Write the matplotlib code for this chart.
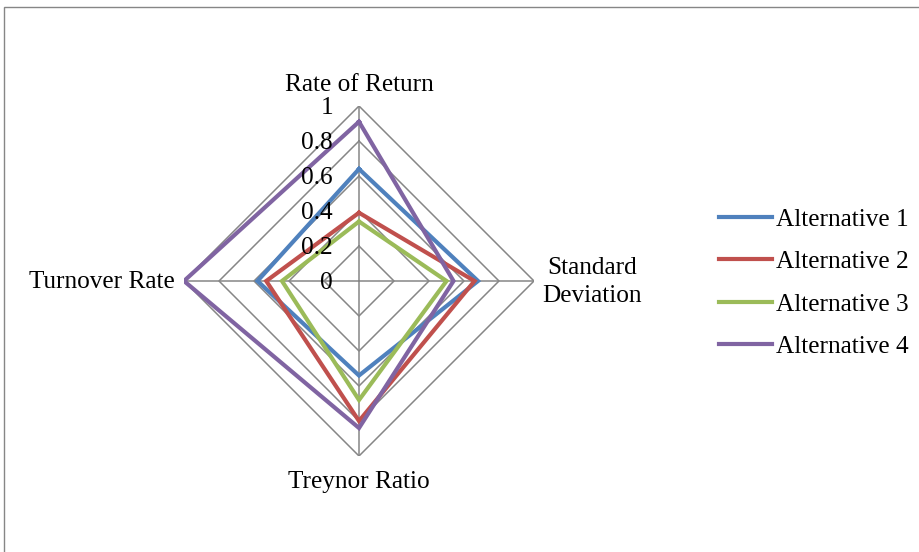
import numpy as np
import matplotlib
matplotlib.use("Agg")
import matplotlib.pyplot as plt
from matplotlib.patches import Rectangle

categories = ["Rate of Return", "Standard\nDeviation", "Treynor Ratio", "Turnover Rate"]
series_names = ["Alternative 1", "Alternative 2", "Alternative 3", "Alternative 4"]
alt1 = [0.64, 0.68, 0.54, 0.58]
alt2 = [0.39, 0.66, 0.80, 0.53]
alt3 = [0.34, 0.50, 0.68, 0.44]
alt4 = [0.91, 0.54, 0.84, 1.00]
ticks = [0, 0.2, 0.4, 0.6, 0.8, 1.0]
tick_labels = ["0", "0.2", "0.4", "0.6", "0.8", "1"]

colors = ["#4F81BD", "#C0504D", "#9BBB59", "#8064A2"]
grid_color = "#868686"
FS = 18.2

plt.rcParams['font.family'] = ['Liberation Serif', 'DejaVu Serif']

fig = plt.figure(figsize=(9.2, 5.52), dpi=100)
fig.patch.set_facecolor("white")

# outer chart border
fig.patches.append(Rectangle((4 / 920, -0.05), 1.2, 1 - 7 / 552 + 0.05,
                             transform=fig.transFigure, fill=False,
                             edgecolor=grid_color, linewidth=1.0, clip_on=False))

ax = fig.add_axes([184 / 920, (552 - 456) / 552, 350 / 920, 350 / 552], projection="polar")
ax.set_theta_zero_location("N")
ax.set_theta_direction(-1)
ax.set_ylim(0, 1)
ax.grid(False)
ax.spines["polar"].set_visible(False)
ax.set_xticks([])
ax.set_yticks([])
ax.patch.set_alpha(0)

n = len(categories)
angles = np.linspace(0, 2 * np.pi, n, endpoint=False)
closed = np.concatenate([angles, angles[:1]])

# polygon grid
for t in ticks[1:]:
    ax.plot(closed, [t] * (n + 1), color=grid_color, linewidth=1.1, zorder=1)
for a in angles:
    ax.plot([a, a], [0, 1], color=grid_color, linewidth=1.1, zorder=1)

# data
for vals, name, c in zip([alt1, alt2, alt3, alt4], series_names, colors):
    v = np.concatenate([vals, vals[:1]])
    ax.plot(closed, v, color=c, linewidth=3.0, label=name, zorder=3,
            solid_joinstyle="miter")

# tick labels
for t, lab in zip(ticks, tick_labels):
    ax.annotate(lab, xy=(0, t), xytext=(-26, -2), textcoords="offset pixels",
                ha="right", va="center", fontsize=FS, zorder=4)

# category labels
offsets = [((0, 21), "center", "center"),
           ((58, -1), "center", "center"),
           ((0, -26), "center", "center"),
           ((-9, -1), "right", "center")]
for a, cat, (off, ha, va) in zip(angles, categories, offsets):
    ax.annotate(cat, xy=(a, 1), xytext=off, textcoords="offset pixels",
                ha=ha, va=va, fontsize=FS, multialignment="center",
                linespacing=1.3, annotation_clip=False)

leg = fig.legend(loc="center left", bbox_to_anchor=(719 / 920, 1 - 283 / 552),
                 frameon=False, fontsize=FS, handlelength=2.1, handletextpad=0.16,
                 labelspacing=0.78, borderpad=0, borderaxespad=0)

fig.savefig("out.png", dpi=100)
